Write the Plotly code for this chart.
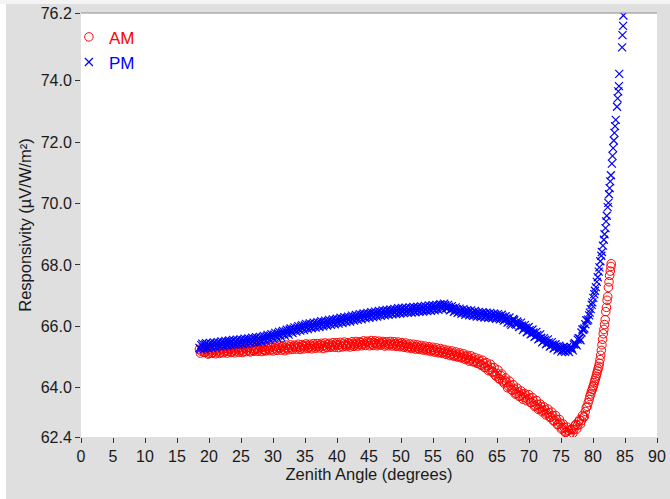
import plotly.graph_objects as go

# Zenith angles of the main sweep samples (degrees), set A
zenith_a = [
    18.5, 18.8, 19.1, 19.4, 19.7, 20.0, 20.3, 20.6, 20.9, 21.2,
    21.5, 21.8, 22.1, 22.4, 22.7, 23.0, 23.3, 23.6, 23.9, 24.2,
    24.5, 24.8, 25.1, 25.4, 25.7, 26.0, 26.3, 26.6, 26.9, 27.2,
    27.5, 27.8, 28.1, 28.4, 28.7, 29.0, 29.3, 29.6, 29.9, 30.2,
    30.5, 30.8, 31.1, 31.4, 31.7, 32.0, 32.3, 32.6, 32.9, 33.2,
    33.5, 33.8, 34.1, 34.4, 34.7, 35.0, 35.3, 35.6, 35.9, 36.2,
    36.5, 36.8, 37.1, 37.4, 37.7, 38.0, 38.3, 38.6, 38.9, 39.2,
    39.5, 39.8, 40.1, 40.4, 40.7, 41.0, 41.3, 41.6, 41.9, 42.2,
    42.5, 42.8, 43.1, 43.4, 43.7, 44.0, 44.3, 44.6, 44.9, 45.2,
    45.5, 45.8, 46.1, 46.4, 46.7, 47.0, 47.3, 47.6, 47.9, 48.2,
    48.5, 48.8, 49.1, 49.4, 49.7, 50.0, 50.3, 50.6, 50.9, 51.2,
    51.5, 51.8, 52.1, 52.4, 52.7, 53.0, 53.3, 53.6, 53.9, 54.2,
    54.5, 54.8, 55.1, 55.4, 55.7, 56.0, 56.3, 56.6, 56.9, 57.2,
    57.5, 57.8, 58.1, 58.4, 58.7, 59.0, 59.3, 59.6, 59.9, 60.2,
    60.5, 60.8, 61.1, 61.4, 61.7, 62.0, 62.3, 62.6, 62.9, 63.2,
    63.5, 63.8, 64.1, 64.4, 64.7, 65.0, 65.3, 65.6, 65.9, 66.2,
    66.5, 66.8, 67.1, 67.4, 67.7, 68.0, 68.3, 68.6, 68.9, 69.2,
    69.5, 69.8, 70.1, 70.4, 70.7, 71.0, 71.3, 71.6, 71.9, 72.2,
    72.5, 72.8, 73.1, 73.4, 73.7, 74.0, 74.3, 74.6, 74.9, 75.2,
    75.5, 75.8, 76.1, 76.4, 76.7, 77.0, 77.3, 77.6, 77.9, 78.2,
    78.5, 78.8, 79.1,
]

# Zenith angles of the interleaved samples (degrees), set B
zenith_b = [
    18.65, 18.95, 19.25, 19.55, 19.85, 20.15, 20.45, 20.75, 21.05, 21.35,
    21.65, 21.95, 22.25, 22.55, 22.85, 23.15, 23.45, 23.75, 24.05, 24.35,
    24.65, 24.95, 25.25, 25.55, 25.85, 26.15, 26.45, 26.75, 27.05, 27.35,
    27.65, 27.95, 28.25, 28.55, 28.85, 29.15, 29.45, 29.75, 30.05, 30.35,
    30.65, 30.95, 31.25, 31.55, 31.85, 32.15, 32.45, 32.75, 33.05, 33.35,
    33.65, 33.95, 34.25, 34.55, 34.85, 35.15, 35.45, 35.75, 36.05, 36.35,
    36.65, 36.95, 37.25, 37.55, 37.85, 38.15, 38.45, 38.75, 39.05, 39.35,
    39.65, 39.95, 40.25, 40.55, 40.85, 41.15, 41.45, 41.75, 42.05, 42.35,
    42.65, 42.95, 43.25, 43.55, 43.85, 44.15, 44.45, 44.75, 45.05, 45.35,
    45.65, 45.95, 46.25, 46.55, 46.85, 47.15, 47.45, 47.75, 48.05, 48.35,
    48.65, 48.95, 49.25, 49.55, 49.85, 50.15, 50.45, 50.75, 51.05, 51.35,
    51.65, 51.95, 52.25, 52.55, 52.85, 53.15, 53.45, 53.75, 54.05, 54.35,
    54.65, 54.95, 55.25, 55.55, 55.85, 56.15, 56.45, 56.75, 57.05, 57.35,
    57.65, 57.95, 58.25, 58.55, 58.85, 59.15, 59.45, 59.75, 60.05, 60.35,
    60.65, 60.95, 61.25, 61.55, 61.85, 62.15, 62.45, 62.75, 63.05, 63.35,
    63.65, 63.95, 64.25, 64.55, 64.85, 65.15, 65.45, 65.75, 66.05, 66.35,
    66.65, 66.95, 67.25, 67.55, 67.85, 68.15, 68.45, 68.75, 69.05, 69.35,
    69.65, 69.95, 70.25, 70.55, 70.85, 71.15, 71.45, 71.75, 72.05, 72.35,
    72.65, 72.95, 73.25, 73.55, 73.85, 74.15, 74.45, 74.75, 75.05, 75.35,
    75.65, 75.95, 76.25, 76.55, 76.85, 77.15, 77.45, 77.75, 78.05, 78.35,
    78.65, 78.95,
]

# Morning responsivity (uV/W/m^2) at zenith_a
am_resp_a = [
    65.26, 65.19, 65.24, 65.16, 65.21, 65.13, 65.20, 65.15, 65.22, 65.17,
    65.21, 65.16, 65.24, 65.18, 65.22, 65.19, 65.25, 65.17, 65.23, 65.20,
    65.26, 65.21, 65.24, 65.19, 65.27, 65.23, 65.20, 65.28, 65.22, 65.25,
    65.28, 65.24, 65.30, 65.25, 65.22, 65.29, 65.26, 65.31, 65.24, 65.30,
    65.27, 65.32, 65.29, 65.34, 65.26, 65.31, 65.28, 65.33, 65.30, 65.35,
    65.31, 65.36, 65.33, 65.30, 65.37, 65.34, 65.38, 65.32, 65.36, 65.33,
    65.39, 65.34, 65.37, 65.40, 65.35, 65.38, 65.33, 65.41, 65.36, 65.39,
    65.37, 65.42, 65.38, 65.41, 65.36, 65.43, 65.40, 65.38, 65.44, 65.39,
    65.43, 65.40, 65.45, 65.41, 65.47, 65.42, 65.44, 65.49, 65.43, 65.46,
    65.42, 65.47, 65.44, 65.41, 65.46, 65.43, 65.48, 65.40, 65.45, 65.42,
    65.45, 65.40, 65.44, 65.39, 65.43, 65.37, 65.41, 65.36, 65.39, 65.34,
    65.33, 65.36, 65.31, 65.34, 65.29, 65.32, 65.27, 65.30, 65.25, 65.28,
    65.27, 65.22, 65.25, 65.20, 65.23, 65.17, 65.21, 65.15, 65.18, 65.13,
    65.15, 65.09, 65.12, 65.05, 65.09, 65.02, 65.07, 64.99, 65.03, 64.96,
    64.99, 64.91, 64.95, 64.85, 64.90, 64.81, 64.86, 64.74, 64.80, 64.67,
    64.72, 64.60, 64.66, 64.52, 64.42, 64.47, 64.30, 64.40, 64.22, 64.25,
    64.18, 64.05, 64.08, 63.92, 63.96, 63.82, 63.87, 63.74, 63.80, 63.69,
    63.74, 63.63, 63.67, 63.52, 63.56, 63.41, 63.46, 63.33, 63.38, 63.26,
    63.29, 63.16, 63.19, 63.05, 63.09, 62.93, 62.97, 62.81, 62.85, 62.69,
    62.71, 62.56, 62.62, 62.50, 62.66, 62.64, 62.81, 62.78, 62.96, 62.93,
    63.05, 63.23, 63.40,
]

# Morning responsivity (uV/W/m^2) at zenith_b
am_resp_b = [
    65.13, 65.29, 65.15, 65.25, 65.10, 65.24, 65.12, 65.26, 65.11, 65.27,
    65.12, 65.28, 65.14, 65.29, 65.13, 65.27, 65.15, 65.30, 65.14, 65.31,
    65.16, 65.31, 65.15, 65.33, 65.18, 65.32, 65.17, 65.34, 65.19, 65.33,
    65.19, 65.35, 65.18, 65.34, 65.20, 65.36, 65.21, 65.37, 65.20, 65.36,
    65.22, 65.38, 65.23, 65.37, 65.21, 65.39, 65.24, 65.40, 65.25, 65.39,
    65.26, 65.42, 65.25, 65.41, 65.27, 65.43, 65.28, 65.42, 65.27, 65.44,
    65.29, 65.44, 65.30, 65.45, 65.28, 65.46, 65.31, 65.45, 65.32, 65.47,
    65.32, 65.47, 65.31, 65.48, 65.33, 65.49, 65.34, 65.47, 65.33, 65.50,
    65.35, 65.51, 65.36, 65.50, 65.37, 65.53, 65.38, 65.52, 65.37, 65.54,
    65.38, 65.53, 65.37, 65.52, 65.39, 65.51, 65.36, 65.50, 65.37, 65.51,
    65.36, 65.50, 65.35, 65.49, 65.34, 65.47, 65.32, 65.46, 65.30, 65.43,
    65.28, 65.42, 65.26, 65.40, 65.25, 65.38, 65.23, 65.36, 65.21, 65.34,
    65.18, 65.32, 65.16, 65.30, 65.14, 65.28, 65.12, 65.25, 65.09, 65.22,
    65.05, 65.20, 65.03, 65.17, 65.00, 65.14, 64.97, 65.11, 64.92, 65.06,
    64.87, 65.04, 64.85, 64.99, 64.80, 64.94, 64.74, 64.90, 64.66, 64.82,
    64.56, 64.77, 64.51, 64.66, 64.38, 64.58, 64.28, 64.45, 64.16, 64.32,
    64.00, 64.22, 63.94, 64.10, 63.80, 63.99, 63.72, 63.90, 63.63, 63.81,
    63.58, 63.78, 63.52, 63.68, 63.40, 63.59, 63.30, 63.47, 63.22, 63.38,
    63.12, 63.31, 63.04, 63.21, 62.92, 63.10, 62.80, 62.97, 62.66, 62.82,
    62.55, 62.72, 62.47, 62.63, 62.52, 62.76, 62.66, 62.90, 62.82, 63.10,
    63.06, 63.36,
]

# Afternoon responsivity (uV/W/m^2) at zenith_a
pm_resp_a = [
    65.30, 65.39, 65.33, 65.41, 65.31, 65.40, 65.35, 65.43, 65.37, 65.44,
    65.38, 65.46, 65.40, 65.48, 65.41, 65.50, 65.43, 65.51, 65.44, 65.52,
    65.46, 65.53, 65.47, 65.55, 65.49, 65.57, 65.50, 65.58, 65.52, 65.60,
    65.53, 65.61, 65.55, 65.64, 65.58, 65.67, 65.61, 65.70, 65.64, 65.73,
    65.68, 65.77, 65.71, 65.80, 65.75, 65.84, 65.78, 65.89, 65.83, 65.92,
    65.87, 65.96, 65.90, 66.00, 65.93, 66.03, 65.96, 66.06, 65.98, 66.07,
    66.00, 66.09, 66.02, 66.12, 66.05, 66.14, 66.07, 66.16, 66.09, 66.18,
    66.12, 66.20, 66.13, 66.23, 66.16, 66.25, 66.18, 66.27, 66.21, 66.30,
    66.23, 66.32, 66.25, 66.35, 66.28, 66.38, 66.30, 66.40, 66.33, 66.41,
    66.34, 66.43, 66.36, 66.45, 66.38, 66.47, 66.40, 66.49, 66.42, 66.50,
    66.43, 66.52, 66.45, 66.54, 66.46, 66.55, 66.47, 66.57, 66.48, 66.56,
    66.49, 66.58, 66.50, 66.59, 66.52, 66.60, 66.53, 66.61, 66.54, 66.62,
    66.55, 66.64, 66.57, 66.65, 66.58, 66.68, 66.60, 66.70, 66.69, 66.60,
    66.64, 66.55, 66.59, 66.50, 66.56, 66.47, 66.53, 66.45, 66.50, 66.42,
    66.48, 66.39, 66.45, 66.37, 66.44, 66.35, 66.42, 66.34, 66.41, 66.33,
    66.40, 66.31, 66.38, 66.30, 66.37, 66.28, 66.35, 66.26, 66.32, 66.21,
    66.26, 66.16, 66.10, 66.18, 66.20, 66.06, 66.11, 66.01, 66.03, 65.93,
    65.96, 65.84, 65.88, 65.76, 65.80, 65.68, 65.72, 65.60, 65.63, 65.51,
    65.56, 65.45, 65.48, 65.37, 65.41, 65.31, 65.35, 65.26, 65.30, 65.23,
    65.22, 65.28, 65.21, 65.29, 65.28, 65.41, 65.42, 65.57, 65.61, 65.80,
    65.89, 66.07, 66.18,
]

# Afternoon responsivity (uV/W/m^2) at zenith_b
pm_resp_b = [
    65.26, 65.44, 65.27, 65.45, 65.29, 65.46, 65.30, 65.48, 65.32, 65.49,
    65.34, 65.51, 65.35, 65.53, 65.37, 65.54, 65.38, 65.56, 65.40, 65.57,
    65.41, 65.58, 65.42, 65.60, 65.44, 65.61, 65.45, 65.63, 65.47, 65.65,
    65.48, 65.66, 65.50, 65.69, 65.53, 65.72, 65.56, 65.75, 65.60, 65.79,
    65.63, 65.82, 65.66, 65.85, 65.70, 65.89, 65.73, 65.93, 65.78, 65.97,
    65.83, 66.01, 65.86, 66.04, 65.88, 66.08, 65.91, 66.10, 65.94, 66.12,
    65.96, 66.14, 65.98, 66.17, 66.00, 66.19, 66.03, 66.21, 66.05, 66.23,
    66.07, 66.25, 66.09, 66.28, 66.11, 66.30, 66.14, 66.32, 66.16, 66.35,
    66.19, 66.37, 66.21, 66.40, 66.23, 66.42, 66.26, 66.44, 66.28, 66.46,
    66.30, 66.48, 66.32, 66.50, 66.34, 66.52, 66.36, 66.54, 66.38, 66.55,
    66.39, 66.57, 66.40, 66.59, 66.42, 66.60, 66.43, 66.61, 66.44, 66.62,
    66.45, 66.63, 66.46, 66.64, 66.47, 66.65, 66.48, 66.67, 66.50, 66.68,
    66.51, 66.69, 66.52, 66.70, 66.54, 66.72, 66.56, 66.74, 66.59, 66.70,
    66.52, 66.66, 66.47, 66.62, 66.44, 66.58, 66.41, 66.56, 66.38, 66.53,
    66.36, 66.52, 66.34, 66.50, 66.32, 66.47, 66.30, 66.46, 66.29, 66.45,
    66.28, 66.44, 66.27, 66.42, 66.25, 66.40, 66.23, 66.38, 66.19, 66.33,
    66.12, 66.29, 66.05, 66.24, 66.08, 66.16, 65.98, 66.12, 65.88, 66.04,
    65.81, 65.98, 65.74, 65.90, 65.66, 65.82, 65.58, 65.74, 65.48, 65.62,
    65.42, 65.58, 65.34, 65.49, 65.28, 65.42, 65.22, 65.37, 65.18, 65.33,
    65.17, 65.32, 65.16, 65.33, 65.22, 65.46, 65.38, 65.62, 65.55, 65.90,
    65.93, 66.20,
]

# Low-sun ends of each sweep, sampled more finely
am_tail_zenith = [
    79.25, 79.4, 79.5, 79.65, 79.75, 79.9, 80.0, 80.1, 80.2, 80.3,
    80.4, 80.5, 80.6, 80.7, 80.8, 80.9, 81.0, 81.1, 81.2, 81.3,
    81.4, 81.5, 81.6, 81.7, 81.8, 81.9, 82.0, 82.1, 82.2, 82.3,
    82.4, 82.5, 82.6, 82.7, 82.8, 82.85,
]
am_tail_resp = [
    63.52, 63.62, 63.72, 63.80, 63.89, 63.95, 64.03, 64.08, 64.17, 64.24,
    64.31, 64.38, 64.47, 64.55, 64.62, 64.70, 64.80, 64.92, 65.06, 65.22,
    65.40, 65.58, 65.76, 65.90, 66.06, 66.22, 66.48, 66.62, 66.85, 66.97,
    67.27, 67.45, 67.66, 67.80, 67.95, 68.04,
]
pm_tail_zenith = [
    79.25, 79.4, 79.5, 79.65, 79.8, 79.9, 80.05, 80.2, 80.3, 80.45,
    80.6, 80.75, 80.9, 81.0, 81.15, 81.3, 81.4, 81.55, 81.7, 81.8,
    81.95, 82.05, 82.15, 82.3, 82.4, 82.5, 82.6, 82.7, 82.8, 82.95,
    83.05, 83.15, 83.25, 83.35, 83.45, 83.55, 83.75, 83.85, 83.95, 84.05,
    84.1, 84.55, 84.6, 84.7, 84.75,
]
pm_tail_resp = [
    66.22, 66.36, 66.45, 66.56, 66.70, 66.78, 66.93, 67.05, 67.16, 67.28,
    67.45, 67.60, 67.78, 67.92, 68.12, 68.30, 68.42, 68.63, 68.82, 69.00,
    69.20, 69.42, 69.60, 69.88, 70.02, 70.30, 70.50, 70.72, 70.92, 71.30,
    71.55, 71.80, 72.05, 72.30, 72.52, 72.72, 73.15, 73.42, 73.65, 73.82,
    74.22, 75.08, 75.48, 75.78, 76.12,
]

x_ticks = [0, 5, 10, 15, 20, 25, 30, 35, 40, 45, 50, 55, 60, 65, 70, 75, 80, 85, 90]
y_ticks = [62.4, 64.0, 66.0, 68.0, 70.0, 72.0, 74.0, 76.2]
y_tick_text = ["62.4", "64.0", "66.0", "68.0", "70.0", "72.0", "74.0", "76.2"]

FONT = "Arial, 'Liberation Sans', Helvetica, sans-serif"
RED = "#ff0000"
BLUE = "#0000ff"

fig = go.Figure()
fig.add_trace(go.Scatter(
    x=zenith_a + zenith_b + am_tail_zenith,
    y=am_resp_a + am_resp_b + am_tail_resp,
    mode="markers", name=f"<span style='color:{RED}'>AM</span>",
    marker=dict(symbol="circle-open", size=8.5, color=RED, line=dict(width=1, color=RED)),
))
fig.add_trace(go.Scatter(
    x=zenith_a + zenith_b + pm_tail_zenith,
    y=pm_resp_a + pm_resp_b + pm_tail_resp,
    mode="markers", name=f"<span style='color:{BLUE}'>PM</span>",
    marker=dict(symbol="x-thin-open", size=8, color=BLUE, line=dict(width=1.2, color=BLUE)),
))

# panel geometry (paper units relative to the plot area)
L, R, T, B = 81, 13, 13, 62
W, H = 670, 499
pw, ph = W - L - R, H - T - B


def px(xp):
    return (xp - L) / pw


def py(yp):
    return (H - B - yp) / ph


shapes = [
    # light margins around the grey panel
    dict(type="rect", xref="paper", yref="paper", x0=px(0), x1=px(6), y0=py(H), y1=py(0),
         fillcolor="white", line=dict(width=0), layer="below"),
    dict(type="rect", xref="paper", yref="paper", x0=px(0), x1=px(W), y0=py(4), y1=py(0),
         fillcolor="#f4f4f4", line=dict(width=0), layer="below"),
    # frame line along the top of the plot area
    dict(type="line", xref="paper", yref="paper", x0=0, x1=1, y0=1, y1=1,
         line=dict(color="#8a8a8a", width=1)),
]

fig.update_layout(
    width=W, height=H,
    margin=dict(l=L, r=R, t=T, b=B, pad=0, autoexpand=False),
    paper_bgcolor="#dfdfdf",
    plot_bgcolor="white",
    font=dict(family=FONT, size=16, color="#1a1a1a"),
    shapes=shapes,
    showlegend=True,
    legend=dict(x=-0.021, y=0.985, xanchor="left", yanchor="top",
                bgcolor="rgba(0,0,0,0)", font=dict(size=17, family=FONT),
                itemwidth=30, tracegroupgap=0),
    xaxis=dict(
        range=[0, 90], tickmode="array", tickvals=x_ticks, automargin=False,
        ticks="outside", ticklen=5, tickwidth=1, tickcolor="#333",
        showgrid=False, zeroline=False, showline=False,
        tickfont=dict(size=16, family=FONT),
        title=dict(text="Zenith Angle (degrees)", font=dict(size=16.5, family=FONT), standoff=4),
    ),
    yaxis=dict(
        range=[62.4, 76.2], tickmode="array", tickvals=y_ticks, ticktext=y_tick_text,
        automargin=False,
        ticks="outside", ticklen=5, tickwidth=1, tickcolor="#333",
        showgrid=False, zeroline=False, showline=False,
        tickfont=dict(size=16, family=FONT),
        title=dict(text="Responsivity (µV/W/m²)", font=dict(size=16.5, family=FONT), standoff=4),
    ),
)

fig.write_html("out.html")
